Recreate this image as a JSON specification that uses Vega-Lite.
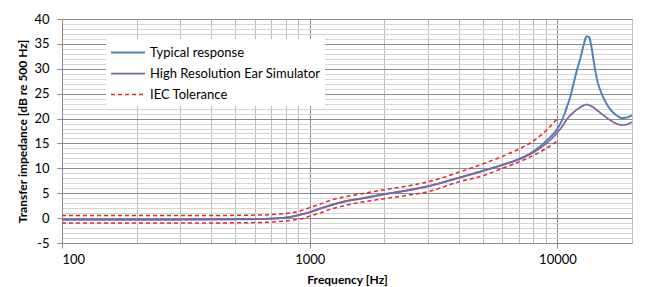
{
  "$schema": "https://vega.github.io/schema/vega-lite/v6.json",
  "autosize": {"type": "none"},
  "padding": {"left": 62, "top": 19, "right": 22, "bottom": 44},
  "width": 570,
  "height": 224,
  "background": "white",
  "config": {
    "view": {"stroke": "#a0a0a0", "strokeWidth": 1},
    "font": "Lato"
  },
  "data": {
    "values": [
      {"f": 100, "series": "IEC Tolerance", "bound": "upper", "v": 0.5},
      {"f": 300, "series": "IEC Tolerance", "bound": "upper", "v": 0.5},
      {"f": 600, "series": "IEC Tolerance", "bound": "upper", "v": 0.6},
      {"f": 750, "series": "IEC Tolerance", "bound": "upper", "v": 0.8},
      {"f": 850, "series": "IEC Tolerance", "bound": "upper", "v": 1.1},
      {"f": 950, "series": "IEC Tolerance", "bound": "upper", "v": 1.7},
      {"f": 1000, "series": "IEC Tolerance", "bound": "upper", "v": 2.1},
      {"f": 1100, "series": "IEC Tolerance", "bound": "upper", "v": 2.8},
      {"f": 1200, "series": "IEC Tolerance", "bound": "upper", "v": 3.5},
      {"f": 1300, "series": "IEC Tolerance", "bound": "upper", "v": 4.0},
      {"f": 1500, "series": "IEC Tolerance", "bound": "upper", "v": 4.6},
      {"f": 2000, "series": "IEC Tolerance", "bound": "upper", "v": 5.7},
      {"f": 2500, "series": "IEC Tolerance", "bound": "upper", "v": 6.5},
      {"f": 3000, "series": "IEC Tolerance", "bound": "upper", "v": 7.3},
      {"f": 4000, "series": "IEC Tolerance", "bound": "upper", "v": 9.2},
      {"f": 5000, "series": "IEC Tolerance", "bound": "upper", "v": 10.9},
      {"f": 6000, "series": "IEC Tolerance", "bound": "upper", "v": 12.4},
      {"f": 7000, "series": "IEC Tolerance", "bound": "upper", "v": 13.9},
      {"f": 8000, "series": "IEC Tolerance", "bound": "upper", "v": 15.5},
      {"f": 9000, "series": "IEC Tolerance", "bound": "upper", "v": 17.6},
      {"f": 10000, "series": "IEC Tolerance", "bound": "upper", "v": 20.0},
      {"f": 100, "series": "IEC Tolerance", "bound": "lower", "v": -1.0},
      {"f": 300, "series": "IEC Tolerance", "bound": "lower", "v": -1.0},
      {"f": 600, "series": "IEC Tolerance", "bound": "lower", "v": -0.9},
      {"f": 750, "series": "IEC Tolerance", "bound": "lower", "v": -0.7},
      {"f": 850, "series": "IEC Tolerance", "bound": "lower", "v": -0.4},
      {"f": 950, "series": "IEC Tolerance", "bound": "lower", "v": 0.0},
      {"f": 1000, "series": "IEC Tolerance", "bound": "lower", "v": 0.4},
      {"f": 1100, "series": "IEC Tolerance", "bound": "lower", "v": 1.0},
      {"f": 1200, "series": "IEC Tolerance", "bound": "lower", "v": 1.7},
      {"f": 1300, "series": "IEC Tolerance", "bound": "lower", "v": 2.2},
      {"f": 1500, "series": "IEC Tolerance", "bound": "lower", "v": 2.9},
      {"f": 2000, "series": "IEC Tolerance", "bound": "lower", "v": 3.9},
      {"f": 2500, "series": "IEC Tolerance", "bound": "lower", "v": 4.6},
      {"f": 3000, "series": "IEC Tolerance", "bound": "lower", "v": 5.3},
      {"f": 4000, "series": "IEC Tolerance", "bound": "lower", "v": 7.3},
      {"f": 5000, "series": "IEC Tolerance", "bound": "lower", "v": 8.5},
      {"f": 6000, "series": "IEC Tolerance", "bound": "lower", "v": 10.0},
      {"f": 7000, "series": "IEC Tolerance", "bound": "lower", "v": 11.3},
      {"f": 8000, "series": "IEC Tolerance", "bound": "lower", "v": 12.6},
      {"f": 9000, "series": "IEC Tolerance", "bound": "lower", "v": 14.0},
      {"f": 10000, "series": "IEC Tolerance", "bound": "lower", "v": 15.5},

      {"f": 100, "series": "Typical response", "bound": "a", "v": -0.3},
      {"f": 200, "series": "Typical response", "bound": "a", "v": -0.3},
      {"f": 400, "series": "Typical response", "bound": "a", "v": -0.25},
      {"f": 600, "series": "Typical response", "bound": "a", "v": -0.2},
      {"f": 700, "series": "Typical response", "bound": "a", "v": -0.1},
      {"f": 800, "series": "Typical response", "bound": "a", "v": 0.1},
      {"f": 900, "series": "Typical response", "bound": "a", "v": 0.6},
      {"f": 1000, "series": "Typical response", "bound": "a", "v": 1.2},
      {"f": 1100, "series": "Typical response", "bound": "a", "v": 1.9},
      {"f": 1200, "series": "Typical response", "bound": "a", "v": 2.5},
      {"f": 1300, "series": "Typical response", "bound": "a", "v": 3.0},
      {"f": 1400, "series": "Typical response", "bound": "a", "v": 3.4},
      {"f": 1600, "series": "Typical response", "bound": "a", "v": 3.9},
      {"f": 2000, "series": "Typical response", "bound": "a", "v": 4.8},
      {"f": 2500, "series": "Typical response", "bound": "a", "v": 5.6},
      {"f": 3000, "series": "Typical response", "bound": "a", "v": 6.4},
      {"f": 4000, "series": "Typical response", "bound": "a", "v": 8.1},
      {"f": 5000, "series": "Typical response", "bound": "a", "v": 9.5},
      {"f": 6000, "series": "Typical response", "bound": "a", "v": 10.7},
      {"f": 7000, "series": "Typical response", "bound": "a", "v": 11.9},
      {"f": 8000, "series": "Typical response", "bound": "a", "v": 13.4},
      {"f": 9000, "series": "Typical response", "bound": "a", "v": 15.5},
      {"f": 10000, "series": "Typical response", "bound": "a", "v": 18.0},
      {"f": 10500, "series": "Typical response", "bound": "a", "v": 20.0},
      {"f": 10900, "series": "Typical response", "bound": "a", "v": 22.2},
      {"f": 11300, "series": "Typical response", "bound": "a", "v": 24.6},
      {"f": 11600, "series": "Typical response", "bound": "a", "v": 26.9},
      {"f": 12000, "series": "Typical response", "bound": "a", "v": 29.8},
      {"f": 12400, "series": "Typical response", "bound": "a", "v": 32.3},
      {"f": 12800, "series": "Typical response", "bound": "a", "v": 35.0},
      {"f": 13100, "series": "Typical response", "bound": "a", "v": 36.5},
      {"f": 13400, "series": "Typical response", "bound": "a", "v": 36.4},
      {"f": 13700, "series": "Typical response", "bound": "a", "v": 34.6},
      {"f": 14000, "series": "Typical response", "bound": "a", "v": 31.6},
      {"f": 14400, "series": "Typical response", "bound": "a", "v": 28.2},
      {"f": 15000, "series": "Typical response", "bound": "a", "v": 25.3},
      {"f": 15400, "series": "Typical response", "bound": "a", "v": 24.0},
      {"f": 16000, "series": "Typical response", "bound": "a", "v": 22.5},
      {"f": 16800, "series": "Typical response", "bound": "a", "v": 21.2},
      {"f": 17500, "series": "Typical response", "bound": "a", "v": 20.5},
      {"f": 18200, "series": "Typical response", "bound": "a", "v": 20.1},
      {"f": 19000, "series": "Typical response", "bound": "a", "v": 20.2},
      {"f": 20000, "series": "Typical response", "bound": "a", "v": 20.7},

      {"f": 100, "series": "High Resolution Ear Simulator", "bound": "b", "v": -0.3},
      {"f": 200, "series": "High Resolution Ear Simulator", "bound": "b", "v": -0.3},
      {"f": 400, "series": "High Resolution Ear Simulator", "bound": "b", "v": -0.25},
      {"f": 600, "series": "High Resolution Ear Simulator", "bound": "b", "v": -0.2},
      {"f": 700, "series": "High Resolution Ear Simulator", "bound": "b", "v": -0.1},
      {"f": 800, "series": "High Resolution Ear Simulator", "bound": "b", "v": 0.1},
      {"f": 900, "series": "High Resolution Ear Simulator", "bound": "b", "v": 0.6},
      {"f": 1000, "series": "High Resolution Ear Simulator", "bound": "b", "v": 1.2},
      {"f": 1100, "series": "High Resolution Ear Simulator", "bound": "b", "v": 1.9},
      {"f": 1200, "series": "High Resolution Ear Simulator", "bound": "b", "v": 2.5},
      {"f": 1300, "series": "High Resolution Ear Simulator", "bound": "b", "v": 3.0},
      {"f": 1400, "series": "High Resolution Ear Simulator", "bound": "b", "v": 3.4},
      {"f": 1600, "series": "High Resolution Ear Simulator", "bound": "b", "v": 3.9},
      {"f": 2000, "series": "High Resolution Ear Simulator", "bound": "b", "v": 4.8},
      {"f": 2500, "series": "High Resolution Ear Simulator", "bound": "b", "v": 5.6},
      {"f": 3000, "series": "High Resolution Ear Simulator", "bound": "b", "v": 6.4},
      {"f": 4000, "series": "High Resolution Ear Simulator", "bound": "b", "v": 8.1},
      {"f": 5000, "series": "High Resolution Ear Simulator", "bound": "b", "v": 9.5},
      {"f": 6000, "series": "High Resolution Ear Simulator", "bound": "b", "v": 10.7},
      {"f": 7000, "series": "High Resolution Ear Simulator", "bound": "b", "v": 11.8},
      {"f": 8000, "series": "High Resolution Ear Simulator", "bound": "b", "v": 13.2},
      {"f": 9000, "series": "High Resolution Ear Simulator", "bound": "b", "v": 15.0},
      {"f": 10000, "series": "High Resolution Ear Simulator", "bound": "b", "v": 17.2},
      {"f": 10500, "series": "High Resolution Ear Simulator", "bound": "b", "v": 18.6},
      {"f": 10900, "series": "High Resolution Ear Simulator", "bound": "b", "v": 19.8},
      {"f": 11600, "series": "High Resolution Ear Simulator", "bound": "b", "v": 21.2},
      {"f": 12400, "series": "High Resolution Ear Simulator", "bound": "b", "v": 22.3},
      {"f": 13100, "series": "High Resolution Ear Simulator", "bound": "b", "v": 22.8},
      {"f": 13800, "series": "High Resolution Ear Simulator", "bound": "b", "v": 22.4},
      {"f": 14500, "series": "High Resolution Ear Simulator", "bound": "b", "v": 21.6},
      {"f": 15400, "series": "High Resolution Ear Simulator", "bound": "b", "v": 20.6},
      {"f": 16800, "series": "High Resolution Ear Simulator", "bound": "b", "v": 19.3},
      {"f": 18200, "series": "High Resolution Ear Simulator", "bound": "b", "v": 18.7},
      {"f": 19000, "series": "High Resolution Ear Simulator", "bound": "b", "v": 18.8},
      {"f": 20000, "series": "High Resolution Ear Simulator", "bound": "b", "v": 19.3}
    ]
  },
  "mark": {"type": "line", "interpolate": "monotone", "clip": true},
  "encoding": {
    "x": {
      "field": "f",
      "type": "quantitative",
      "scale": {"type": "log", "domain": [100, 20000], "nice": false},
      "axis": {
        "values": [100, 200, 300, 400, 500, 600, 700, 800, 900, 1000, 2000, 3000, 4000, 5000, 6000, 7000, 8000, 9000, 10000, 20000],
        "grid": true,
        "gridColor": {"condition": {"test": "datum.value == 100 || datum.value == 1000 || datum.value == 10000", "value": "#8c8c8c"}, "value": "#bdbdbd"},
        "gridWidth": 1,
        "tickColor": {"condition": {"test": "datum.value == 100 || datum.value == 1000 || datum.value == 10000", "value": "#8c8c8c"}, "value": "transparent"},
        "tickSize": 5,
        "labelExpr": "datum.value == 100 || datum.value == 1000 || datum.value == 10000 ? '' + datum.value : ''",
        "labelOverlap": false,
        "labelBound": false,
        "labelFont": "Lato",
        "labelFontSize": 13,
        "labelColor": "#000000",
        "labelPadding": 5,
        "domainColor": "#8c8c8c",
        "title": "Frequency [Hz]",
        "titleFont": "Lato",
        "titleFontSize": 12,
        "titleFontWeight": "bold",
        "titleColor": "#000000",
        "titleX": 285,
        "titleY": 36,
        "titleAlign": "center",
        "titleBaseline": "middle"
      }
    },
    "y": {
      "field": "v",
      "type": "quantitative",
      "scale": {"domain": [-5, 40], "nice": false},
      "axis": {
        "values": [-5, -4, -3, -2, -1, 0, 1, 2, 3, 4, 5, 6, 7, 8, 9, 10, 11, 12, 13, 14, 15, 16, 17, 18, 19, 20, 21, 22, 23, 24, 25, 26, 27, 28, 29, 30, 31, 32, 33, 34, 35, 36, 37, 38, 39, 40],
        "grid": true,
        "gridColor": {"condition": {"test": "datum.value % 5 == 0", "value": "#8c8c8c"}, "value": "#d4d4d4"},
        "tickColor": {"condition": {"test": "datum.value % 5 == 0", "value": "#8c8c8c"}, "value": "transparent"},
        "tickSize": 5,
        "labelExpr": "datum.value % 5 == 0 ? '' + datum.value : ''",
        "labelOverlap": false,
        "labelBound": false,
        "labelFont": "Lato",
        "labelFontSize": 13,
        "labelColor": "#000000",
        "labelPadding": 8,
        "domainColor": "#8c8c8c",
        "title": "Transfer impedance [dB re 500 Hz]",
        "titleFont": "Lato",
        "titleFontSize": 12,
        "titleFontWeight": "bold",
        "titleColor": "#000000",
        "titleAngle": -90,
        "titleX": -40,
        "titleY": 112,
        "titleAlign": "center",
        "titleBaseline": "middle"
      }
    },
    "detail": {"field": "bound"},
    "color": {
      "field": "series",
      "type": "nominal",
      "scale": {"domain": ["Typical response", "High Resolution Ear Simulator", "IEC Tolerance"], "range": ["#4f81bd", "#8064a2", "#e8262a"]},
      "legend": {
        "title": null,
        "orient": "none",
        "legendX": 44,
        "legendY": 20,
        "fillColor": "white",
        "padding": 4,
        "symbolType": "M-1,0H3",
        "symbolSize": 289,
        "symbolStrokeWidth": 1.5,
        "labelFont": "Lato",
        "labelFontSize": 13,
        "labelColor": "#000000",
        "labelOffset": 21,
        "labelLimit": 400,
        "rowPadding": 4
      }
    },
    "strokeDash": {
      "field": "series",
      "type": "nominal",
      "scale": {"domain": ["Typical response", "High Resolution Ear Simulator", "IEC Tolerance"], "range": [[1, 0], [1, 0], [4, 3]]},
      "legend": {
        "title": null,
        "orient": "none",
        "legendX": 44,
        "legendY": 20,
        "fillColor": "white",
        "padding": 4,
        "symbolType": "M-1,0H3",
        "symbolSize": 289,
        "symbolStrokeWidth": 1.5,
        "labelFont": "Lato",
        "labelFontSize": 13,
        "labelColor": "#000000",
        "labelOffset": 21,
        "labelLimit": 400,
        "rowPadding": 4
      }
    },
    "strokeWidth": {
      "field": "series",
      "type": "nominal",
      "scale": {"domain": ["Typical response", "High Resolution Ear Simulator", "IEC Tolerance"], "range": [2, 1.5, 1.5]},
      "legend": null
    }
  }
}
